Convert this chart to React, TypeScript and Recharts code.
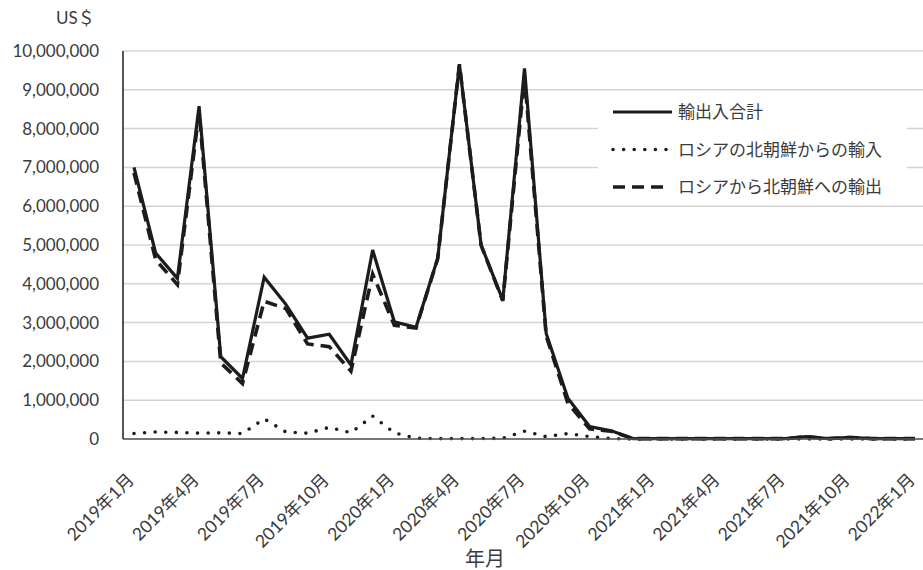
import React from "react";
import { LineChart, Line, XAxis, YAxis, CartesianGrid, Legend, Label } from "recharts";

const months = [
  "2019年1月", "2019年2月", "2019年3月", "2019年4月", "2019年5月", "2019年6月",
  "2019年7月", "2019年8月", "2019年9月", "2019年10月", "2019年11月", "2019年12月",
  "2020年1月", "2020年2月", "2020年3月", "2020年4月", "2020年5月", "2020年6月",
  "2020年7月", "2020年8月", "2020年9月", "2020年10月", "2020年11月", "2020年12月",
  "2021年1月", "2021年2月", "2021年3月", "2021年4月", "2021年5月", "2021年6月",
  "2021年7月", "2021年8月", "2021年9月", "2021年10月", "2021年11月", "2021年12月",
  "2022年1月",
];

// millions of US$
const total = [
  7.0, 4.79, 4.14, 8.58, 2.12, 1.56, 4.17, 3.47, 2.6, 2.7, 1.91, 4.87,
  3.02, 2.88, 4.66, 9.66, 5.0, 3.58, 9.55, 2.72, 1.05, 0.32, 0.21, 0.01,
  0.01, 0.01, 0.01, 0.01, 0.01, 0.01, 0.01, 0.06, 0.01, 0.04, 0.01, 0.01,
  0.01,
];
const imports = [
  0.14, 0.18, 0.17, 0.15, 0.16, 0.14, 0.52, 0.18, 0.15, 0.3, 0.16, 0.59,
  0.16, 0.02, 0.01, 0.01, 0.01, 0.02, 0.2, 0.06, 0.14, 0.06, 0.01, 0,
  0, 0, 0, 0, 0, 0, 0, 0, 0, 0, 0, 0,
  0,
];
const exportsRu = [
  6.86, 4.62, 3.98, 8.43, 1.96, 1.43, 3.55, 3.36, 2.45, 2.38, 1.75, 4.25,
  2.93, 2.86, 4.65, 9.65, 4.99, 3.56, 9.35, 2.66, 0.92, 0.26, 0.2, 0.01,
  0.01, 0.01, 0.01, 0.01, 0.01, 0.01, 0.01, 0.06, 0.01, 0.04, 0.01, 0.01,
  0.01,
];
const yTicks = [0, 1, 2, 3, 4, 5, 6, 7, 8, 9, 10].map((v) => v * 1_000_000);

const SERIES = [
  { key: "total", name: "輸出入合計", dash: undefined as string | undefined, cap: "butt", w: 3.2 },
  { key: "imports", name: "ロシアの北朝鮮からの輸入", dash: "0 10.6", cap: "round", w: 3.6 },
  { key: "exports", name: "ロシアから北朝鮮への輸出", dash: "12 7", cap: "butt", w: 3.6 },
];

const data = months.map((m, i) => ({
  month: m,
  total: Math.round(total[i] * 1_000_000),
  imports: Math.round(imports[i] * 1_000_000),
  exports: Math.round(exportsRu[i] * 1_000_000),
}));

const INK = "#1c1c1c";
const TXT = "#3b3b3b";
const FONT = "Lato, 'Noto Sans CJK JP', sans-serif";

function XTick({ x = 0, y = 0, payload }: { x?: number; y?: number; payload?: { value: string } }) {
  return (
    <g transform={`translate(${x + 1},${y + 34})`}>
      <text textAnchor="end" transform="rotate(-45)" style={{ fontSize: 17.5, fill: TXT, fontFamily: FONT }}>
        {payload?.value}
      </text>
    </g>
  );
}

function LegendBox() {
  return (
    <svg width={309} height={108} style={{ display: "block", background: "#fff" }}>
      {SERIES.map((s, i) => {
        const y = 17 + i * 37.5;
        return (
          <g key={s.key}>
            <line x1={15} x2={s.key === "exports" ? 68 : 74} y1={y} y2={y} stroke={INK}
              strokeWidth={s.w} strokeDasharray={s.dash} strokeLinecap={s.cap as "butt" | "round"} />
            <text x={80} y={y} dy={6} style={{ fontSize: 17, fill: TXT, fontFamily: FONT }}>{s.name}</text>
          </g>
        );
      })}
    </svg>
  );
}

export default function App() {
  return (
    <div style={{ position: "absolute", left: 0, top: 0, width: 923, height: 570, background: "#fff" }}>
      <div style={{ position: "absolute", left: 56, top: 4, fontSize: 17, color: TXT, fontFamily: FONT }}>US＄</div>
      <LineChart width={923} height={570} data={data} margin={{ top: 51, right: 0, bottom: 0, left: 0 }}>
        <CartesianGrid vertical={false} stroke="#d4d4d4" strokeWidth={1.5} />
        <XAxis xAxisId="top" dataKey="month" orientation="top" height={0} tick={false} tickLine={false}
          padding={{ left: 11, right: 8 }} axisLine={{ stroke: INK, strokeWidth: 1.5 }} />
        <XAxis dataKey="month" interval={2} height={131} tickLine={false} tick={<XTick />}
          padding={{ left: 11, right: 8 }} axisLine={{ stroke: "#555", strokeWidth: 1.5 }}>
          <Label value="年月" position="insideBottom" offset={4} dx={-38}
            style={{ fontSize: 20, fill: TXT, fontFamily: FONT }} />
        </XAxis>
        <YAxis width={123} domain={[0, 10_000_000]} ticks={yTicks} interval={0} tickLine={false} tickSize={0} tickMargin={24}
          axisLine={{ stroke: INK, strokeWidth: 1.5 }}
          tickFormatter={(v: number) => v.toLocaleString("en-US")}
          tick={{ fontSize: 17, fill: TXT, fontFamily: FONT }} />
        <Legend layout="vertical" align="center" verticalAlign="middle" content={<LegendBox />}
          wrapperStyle={{ left: 598, top: 95, width: 309, height: 108 }} />
        <Line dataKey="imports" name={SERIES[1].name} stroke={INK} strokeWidth={3.6} strokeDasharray="0 10.6"
          strokeLinecap="round" dot={false} isAnimationActive={false} />
        <Line dataKey="exports" name={SERIES[2].name} stroke={INK} strokeWidth={3.6} strokeDasharray="12 7"
          dot={false} isAnimationActive={false} />
        <Line dataKey="total" name={SERIES[0].name} stroke={INK} strokeWidth={3.2} strokeLinejoin="miter"
          dot={false} isAnimationActive={false} />
      </LineChart>
    </div>
  );
}
